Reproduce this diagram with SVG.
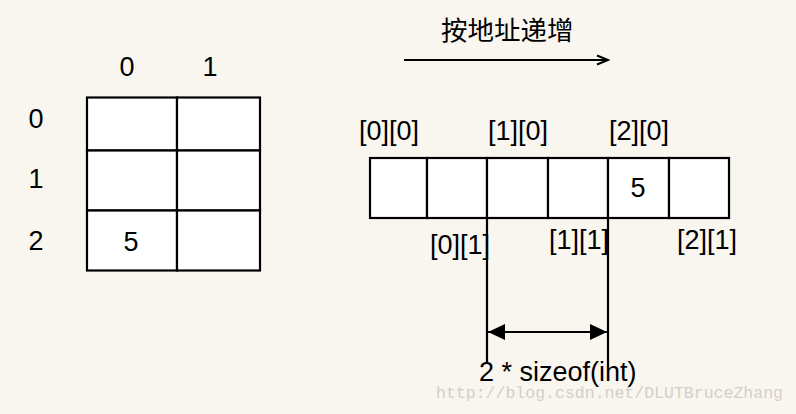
<svg xmlns="http://www.w3.org/2000/svg" width="796" height="414" viewBox="0 0 796 414">
<defs>
<style>
.t{font-family:"Liberation Sans",Arial,sans-serif;font-size:27px;fill:#000}
.m{text-anchor:middle}
.cell{fill:#fff;stroke:#000;stroke-width:2.2}
.ln{stroke:#000;stroke-width:2.2;fill:none}
.cjk{font-family:"Noto Sans CJK SC","Liberation Sans",sans-serif;font-size:26.5px;fill:#000}
.wm{font-family:"Liberation Mono","Courier New",monospace;font-size:16.5px;fill:#d3cfc8}
</style>
<marker id="open" markerWidth="14" markerHeight="12" refX="12" refY="6" orient="auto" markerUnits="userSpaceOnUse">
<path d="M1,1.5 L12,6 L1,10.5" fill="none" stroke="#000" stroke-width="2"/>
</marker>
<marker id="fill" markerWidth="18" markerHeight="18" refX="17" refY="9" orient="auto-start-reverse" markerUnits="userSpaceOnUse">
<path d="M0,1 L17,9 L0,17 Z" fill="#000"/>
</marker>
</defs>
<rect width="796" height="414" fill="#f9f6f0"/>

<g id="matrix">
<rect class="cell" x="87" y="97.5" width="90" height="53"/>
<rect class="cell" x="177" y="97.5" width="83" height="53"/>
<rect class="cell" x="87" y="150.5" width="90" height="60"/>
<rect class="cell" x="177" y="150.5" width="83" height="60"/>
<rect class="cell" x="87" y="210.5" width="90" height="60"/>
<rect class="cell" x="177" y="210.5" width="83" height="60"/>
<text class="t m" x="131" y="251">5</text>
</g>
<g id="col-labels">
<text class="t m" x="127" y="76">0</text>
<text class="t m" x="210" y="76">1</text>
</g>
<g id="row-labels">
<text class="t m" x="36" y="128">0</text>
<text class="t m" x="36" y="188">1</text>
<text class="t m" x="36" y="250">2</text>
</g>

<g id="direction">
<text class="cjk" x="441" y="40">按地址递增</text>
</g>

<g id="strip">
<rect class="cell" x="370" y="158" width="57" height="60"/>
<rect class="cell" x="427" y="158" width="60" height="60"/>
<rect class="cell" x="487" y="158" width="61" height="60"/>
<rect class="cell" x="548" y="158" width="60" height="60"/>
<rect class="cell" x="608" y="158" width="61" height="60"/>
<rect class="cell" x="669" y="158" width="60" height="60"/>
<text class="t m" x="638" y="197">5</text>
</g>
<g id="top-labels">
<text class="t m" x="389" y="140">[0][0]</text>
<text class="t m" x="518" y="140">[1][0]</text>
<text class="t m" x="639" y="140">[2][0]</text>
</g>
<g id="bottom-labels">
<text class="t m" x="460" y="254">[0][1]</text>
<text class="t m" x="579" y="249">[1][1]</text>
<text class="t m" x="707" y="249">[2][1]</text>
</g>

<g id="connectors">
<line class="ln" x1="404" y1="60" x2="608" y2="60" marker-end="url(#open)"/>
<line class="ln" x1="487" y1="218" x2="487" y2="362"/>
<line class="ln" x1="608" y1="218" x2="608" y2="366"/>
<line class="ln" x1="488" y1="332" x2="607" y2="332" marker-start="url(#fill)" marker-end="url(#fill)"/>
</g>

<g id="size-label">
<text class="t" x="479" y="381">2 * sizeof(int)</text>
</g>

<text class="wm" x="436" y="398" textLength="347" lengthAdjust="spacingAndGlyphs">http://blog.csdn.net/DLUTBruceZhang</text>
</svg>
